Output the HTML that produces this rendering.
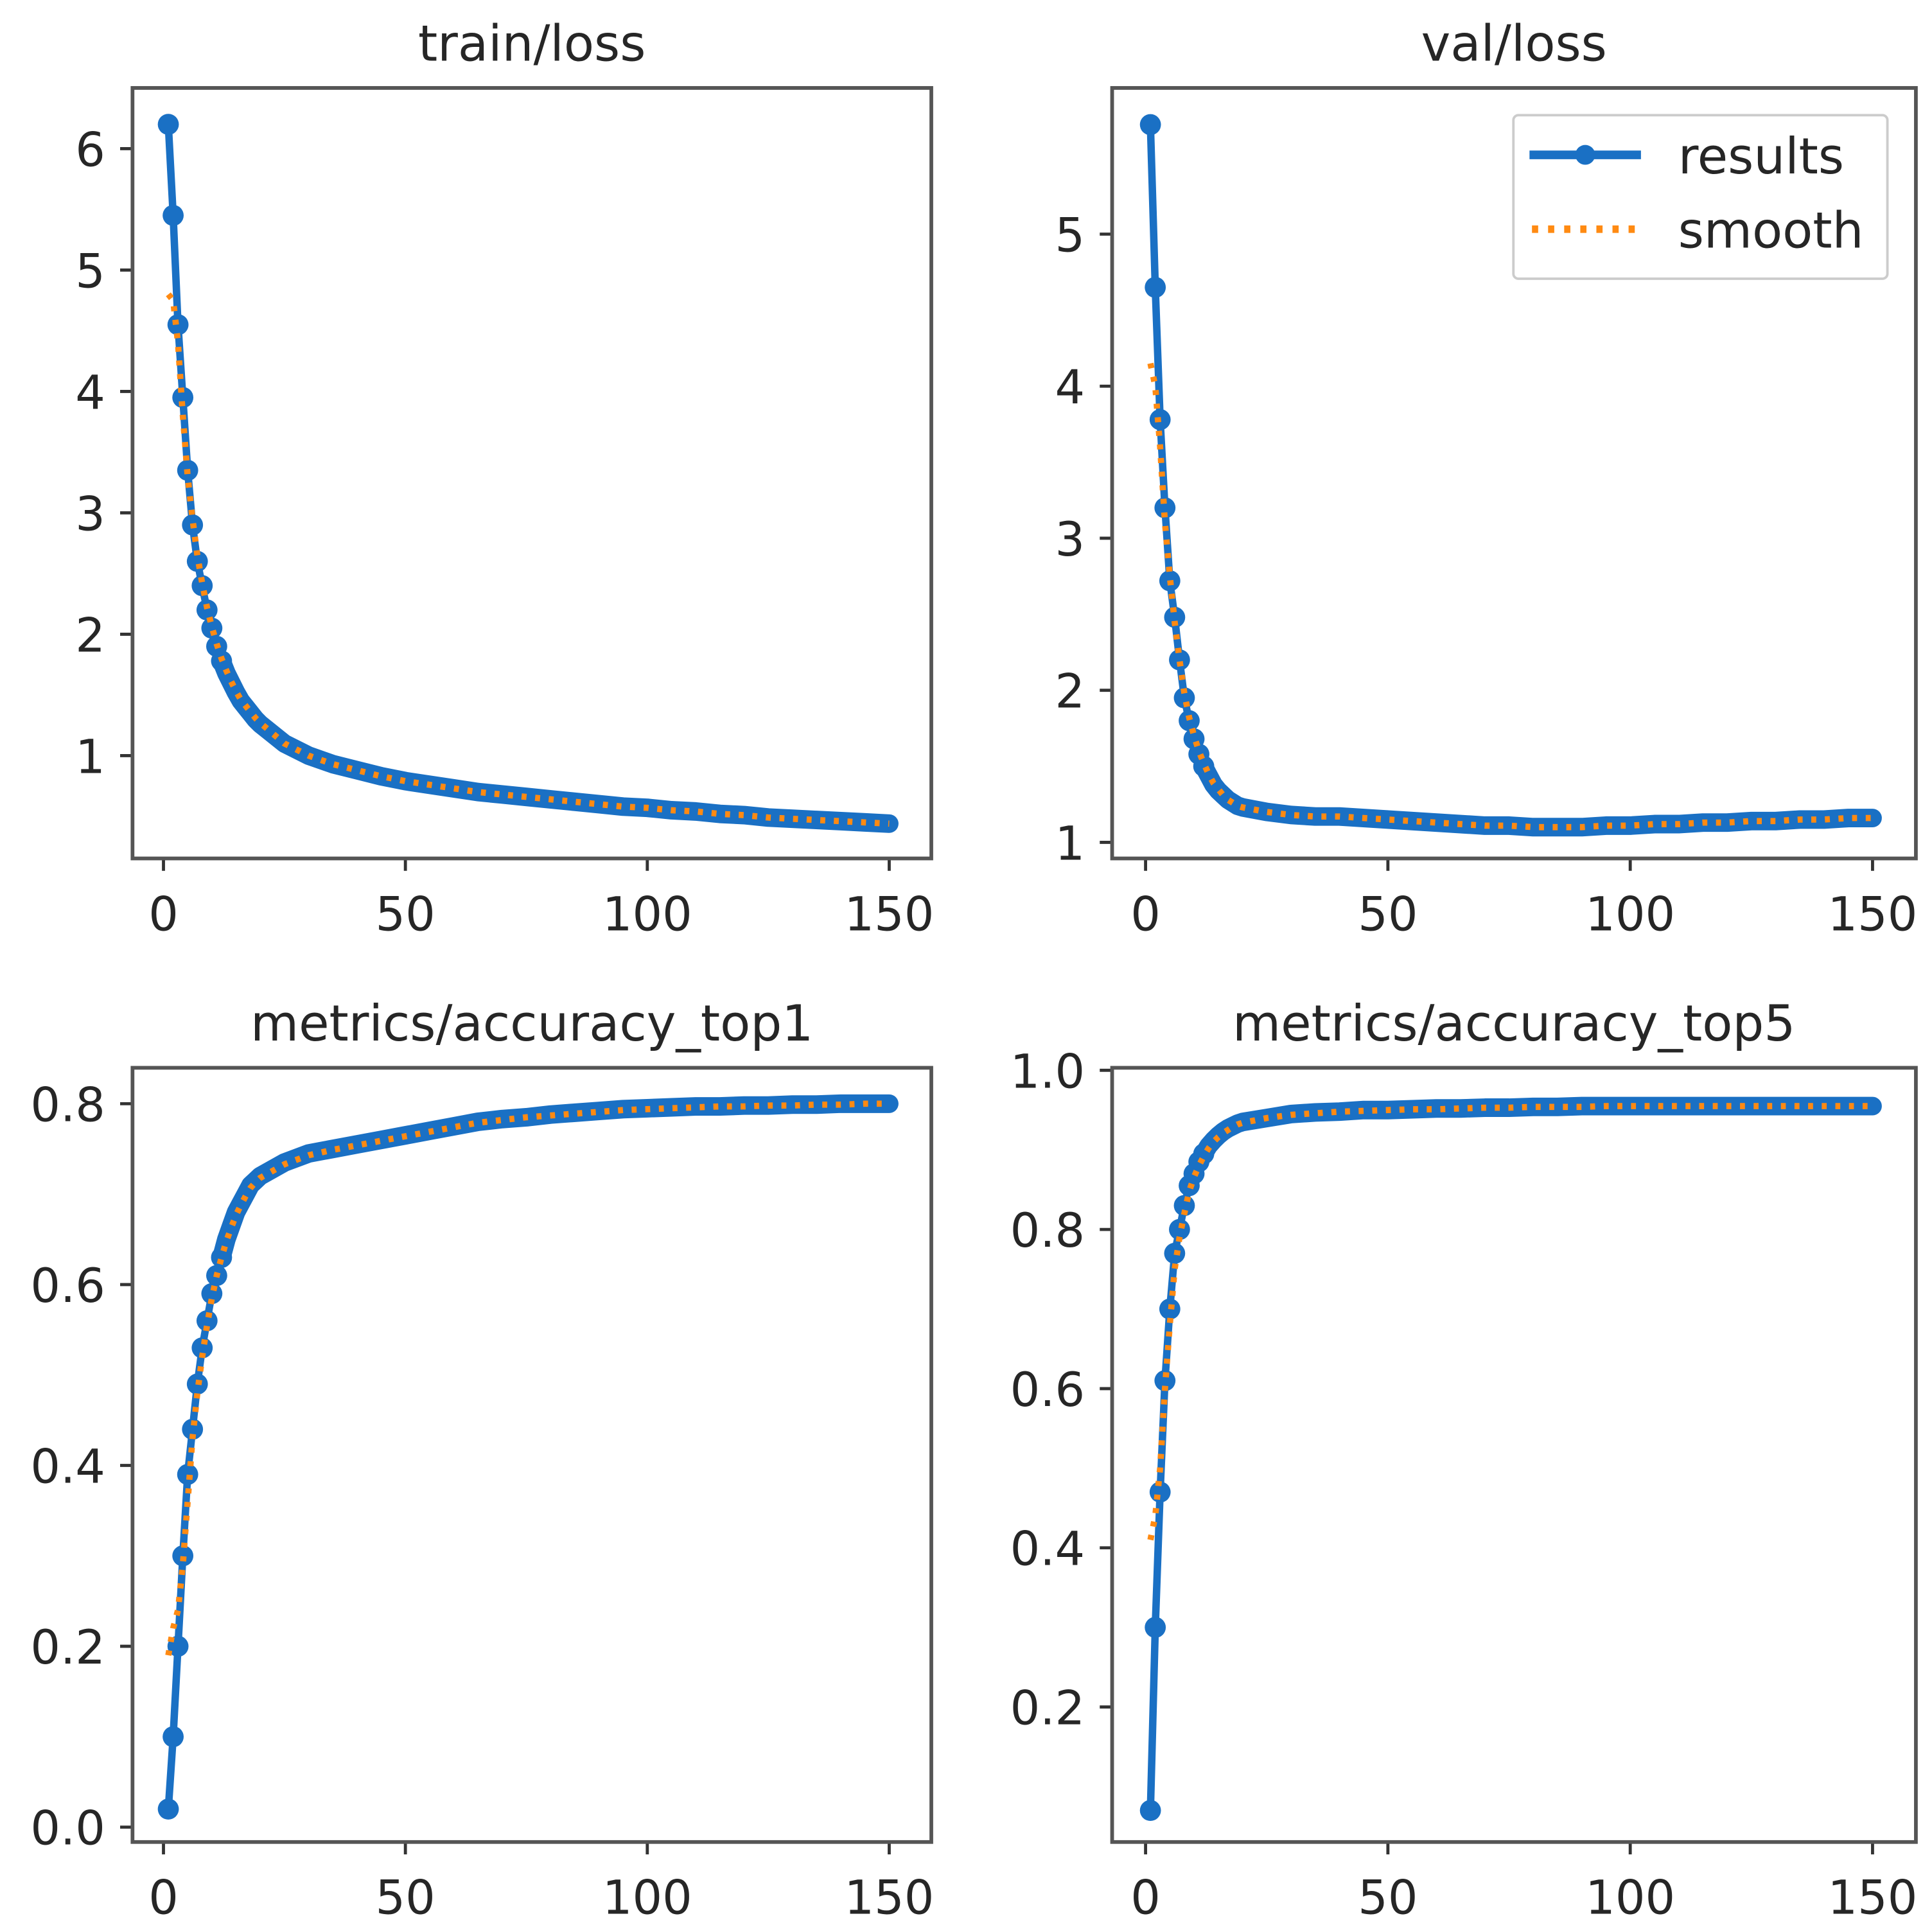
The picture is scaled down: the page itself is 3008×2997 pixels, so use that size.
<!DOCTYPE html>
<html><head><meta charset="utf-8">
<style>
html,body{margin:0;padding:0;background:#fff;}
svg{display:block;}
text{font-family:"DejaVu Sans","Liberation Sans",sans-serif;fill:#262626;}
</style></head>
<body>
<svg id="fig" width="3008" height="2997" viewBox="0 0 1560 1554" preserveAspectRatio="none" xmlns="http://www.w3.org/2000/svg">
<rect width="1560" height="1554" fill="#fff"/>
</svg>
<script>
const epochs = [1,2,3,4,5,6,7,8,9,10,11,12,13,14,15,16,17,18,19,20,25,30,35,40,45,50,55,60,65,70,75,80,85,90,95,100,105,110,115,120,125,130,135,140,145,150];
const trainLoss = [6.2,5.45,4.55,3.95,3.35,2.9,2.6,2.4,2.2,2.05,1.9,1.78,1.68,1.6,1.52,1.45,1.4,1.35,1.3,1.26,1.1,1.0,0.93,0.88,0.83,0.79,0.76,0.73,0.7,0.68,0.66,0.64,0.62,0.6,0.58,0.57,0.55,0.54,0.52,0.51,0.49,0.48,0.47,0.46,0.45,0.44];
const trainSmooth = [4.8,4.75,4.4,3.8,3.3,2.95,2.65,2.42,2.22,2.06,1.92,1.8,1.7,1.61,1.53,1.46,1.41,1.36,1.31,1.27,1.1,1.0,0.93,0.88,0.83,0.79,0.76,0.73,0.7,0.68,0.66,0.64,0.62,0.6,0.58,0.57,0.55,0.54,0.52,0.51,0.49,0.48,0.47,0.46,0.45,0.44];
const valLoss = [5.72,4.65,3.78,3.2,2.72,2.48,2.2,1.95,1.8,1.68,1.58,1.5,1.44,1.38,1.34,1.31,1.28,1.26,1.24,1.23,1.2,1.18,1.17,1.17,1.16,1.15,1.14,1.13,1.12,1.11,1.11,1.1,1.1,1.1,1.11,1.11,1.12,1.12,1.13,1.13,1.14,1.14,1.15,1.15,1.16,1.16];
const valSmooth = [4.15,4.0,3.6,3.1,2.75,2.45,2.2,1.98,1.82,1.7,1.6,1.52,1.45,1.39,1.35,1.31,1.28,1.26,1.24,1.23,1.2,1.18,1.17,1.17,1.16,1.15,1.14,1.13,1.12,1.11,1.11,1.1,1.1,1.1,1.11,1.11,1.12,1.12,1.13,1.13,1.14,1.14,1.15,1.15,1.16,1.16];
const top1 = [0.02,0.1,0.2,0.3,0.39,0.44,0.49,0.53,0.56,0.59,0.61,0.63,0.65,0.665,0.68,0.69,0.7,0.71,0.715,0.72,0.735,0.745,0.75,0.755,0.76,0.765,0.77,0.775,0.78,0.783,0.785,0.788,0.79,0.792,0.794,0.795,0.796,0.797,0.797,0.798,0.798,0.799,0.799,0.8,0.8,0.8];
const top1Smooth = [0.19,0.22,0.24,0.29,0.36,0.43,0.48,0.52,0.555,0.585,0.61,0.63,0.648,0.663,0.677,0.688,0.698,0.707,0.713,0.718,0.733,0.743,0.749,0.754,0.759,0.764,0.769,0.774,0.779,0.782,0.785,0.787,0.789,0.791,0.793,0.794,0.795,0.796,0.797,0.797,0.798,0.798,0.799,0.799,0.8,0.8];
const top5 = [0.07,0.3,0.47,0.61,0.7,0.77,0.8,0.83,0.855,0.87,0.885,0.895,0.905,0.912,0.918,0.923,0.927,0.93,0.933,0.935,0.94,0.945,0.947,0.948,0.95,0.95,0.951,0.952,0.952,0.953,0.953,0.954,0.954,0.955,0.955,0.955,0.955,0.955,0.955,0.955,0.955,0.955,0.955,0.955,0.955,0.955];
const top5Smooth = [0.41,0.44,0.5,0.6,0.68,0.75,0.79,0.82,0.848,0.866,0.88,0.892,0.902,0.91,0.916,0.921,0.925,0.929,0.932,0.934,0.94,0.944,0.946,0.948,0.949,0.95,0.951,0.951,0.952,0.953,0.953,0.954,0.954,0.954,0.955,0.955,0.955,0.955,0.955,0.955,0.955,0.955,0.955,0.955,0.955,0.955];
const xTicks = [0,50,100,150];
const trainTicks = [1,2,3,4,5,6];
const valTicks = [1,2,3,4,5];
const top1Ticks = [0.0,0.2,0.4,0.6,0.8];
const top5Ticks = [0.2,0.4,0.6,0.8,1.0];

const NS = "http://www.w3.org/2000/svg";
const svg = document.getElementById('fig');
const BLUE = "#1a70c4", ORANGE = "#ff8a12";
function mk(tag, attrs, parent){ const e=document.createElementNS(NS,tag); for(const k in attrs) e.setAttribute(k,attrs[k]); (parent||svg).appendChild(e); return e; }

const panels = [
 {name:'train-loss', title:'train/loss', box:[107,71,752,693], x0:132,x150:718, yv:[1,6], yp:[610,120], ticks:trainTicks, fmt:v=>String(v), y:trainLoss, s:trainSmooth},
 {name:'val-loss', title:'val/loss', box:[898,71,1547,693], x0:925,x150:1512, yv:[1,5], yp:[680,189], ticks:valTicks, fmt:v=>String(v), y:valLoss, s:valSmooth},
 {name:'accuracy-top1', title:'metrics/accuracy_top1', box:[107,862,752,1487], x0:132,x150:718, yv:[0,0.8], yp:[1475,891], ticks:top1Ticks, fmt:v=>v.toFixed(1), y:top1, s:top1Smooth},
 {name:'accuracy-top5', title:'metrics/accuracy_top5', box:[898,862,1547,1487], x0:925,x150:1512, yv:[0.2,1.0], yp:[1378,864], ticks:top5Ticks, fmt:v=>v.toFixed(1), y:top5, s:top5Smooth}
];

panels.forEach(p=>{
  const g = mk('g',{});
  
  
  const [l,t,r,b] = p.box;
  const X = v => p.x0 + (v/150)*(p.x150-p.x0);
  const Y = v => p.yp[0] + (v-p.yv[0])/(p.yv[1]-p.yv[0])*(p.yp[1]-p.yp[0]);
  const title = mk('text',{x:(l+r)/2,y:t-22,'text-anchor':'middle','font-size':40},g);
  title.textContent = p.title;
  
  
  xTicks.forEach(v=>{
    mk('line',{x1:X(v),x2:X(v),y1:b,y2:b+10,stroke:'#333','stroke-width':2.5},g);
    const tx = mk('text',{x:X(v),y:b+58,'text-anchor':'middle','font-size':38},g);
    tx.textContent = v;
    
    
  });
  p.ticks.forEach(v=>{
    mk('line',{x1:l-10,x2:l,y1:Y(v),y2:Y(v),stroke:'#333','stroke-width':2.5},g);
    const ty = mk('text',{x:l-22,y:Y(v)+14,'text-anchor':'end','font-size':38},g);
    ty.textContent = p.fmt(v);
    
    
  });
  const pts = epochs.map((e,i)=>X(e)+','+Y(p.y[i])).join(' ');
  const line = mk('polyline',{points:pts,fill:'none',stroke:BLUE,'stroke-width':6,'stroke-linejoin':'round'},g);
  
  
  const dense = epochs.map((e,i)=>[e,p.y[i]]).filter(d=>d[0]>=12).map(d=>X(d[0])+','+Y(d[1])).join(' ');
  const thick = mk('polyline',{points:dense,fill:'none',stroke:BLUE,'stroke-width':15,'stroke-linejoin':'round','stroke-linecap':'round'},g);
  
  
  epochs.forEach((e,i)=>{
    if(e>12) return;
    const c = mk('circle',{cx:X(e),cy:Y(p.y[i]),r:8.5,fill:BLUE},g);
    
    
  });
  const spts = epochs.map((e,i)=>X(e)+','+Y(p.s[i])).join(' ');
  const sl = mk('polyline',{points:spts,fill:'none',stroke:ORANGE,'stroke-width':5,'stroke-dasharray':'4 7'},g);
  
  
  const fr = mk('rect',{x:l,y:t,width:r-l,height:b-t,fill:'none',stroke:'#555','stroke-width':3},g);
  
  
});

const lg = mk('g',{});


mk('rect',{x:1222,y:93,width:302,height:132,fill:'#fff',stroke:'#ccc','stroke-width':2,rx:4},lg);
mk('line',{x1:1235,x2:1325,y1:125,y2:125,stroke:BLUE,'stroke-width':7},lg);
mk('circle',{cx:1280,cy:125,r:8,fill:BLUE},lg);
const lt1 = mk('text',{x:1355,y:140,'font-size':40},lg);
lt1.textContent = 'results';


mk('line',{x1:1237,x2:1325,y1:185,y2:185,stroke:ORANGE,'stroke-width':6,'stroke-dasharray':'5 8'},lg);
const lt2 = mk('text',{x:1355,y:200,'font-size':40},lg);
lt2.textContent = 'smooth';


</script>
</body></html>
